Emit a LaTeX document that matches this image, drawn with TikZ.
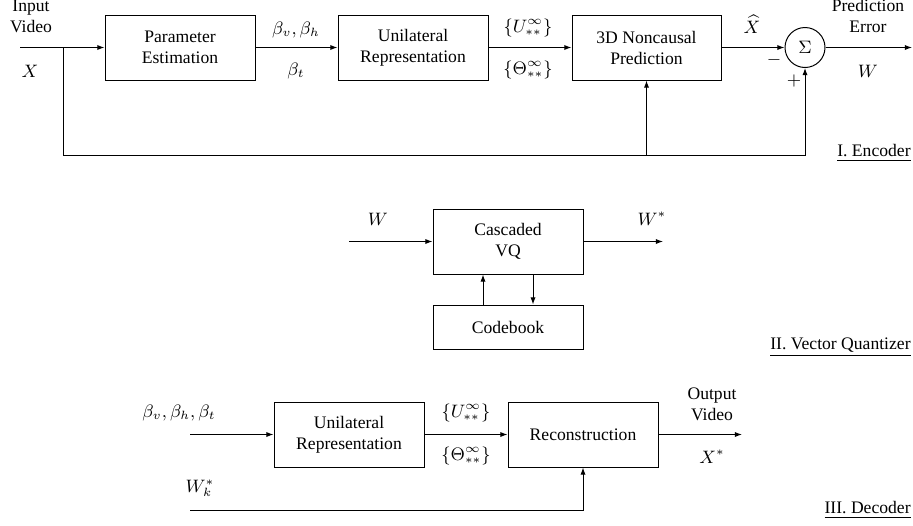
\documentclass[tikz,border=0pt]{standalone}
\usepackage{fontspec}
\setmainfont{Liberation Serif}
\usetikzlibrary{arrows.meta}
\begin{document}
\begin{tikzpicture}[x=0.5pt,y=-0.5pt,
  txt/.style={font=\fontsize{8.8}{10.5}\selectfont},
  blk/.style={draw, line width=0.5pt, inner sep=0pt, align=center, txt},
  lbl/.style={inner sep=0pt, align=center, txt},
  conn/.style={line width=0.5pt},
  arr/.style={conn, -{Latex[length=3.6pt,width=2.6pt]}}]
\useasboundingbox (0,0) rectangle (913,525);

% ---------- I. Encoder ----------
\node[blk, minimum width=75pt, minimum height=32.5pt] (pe) at (180,47.5) {Parameter\\Estimation};
\node[blk, minimum width=75pt, minimum height=32.5pt] (ur) at (413,47.5) {Unilateral\\Representation};
\node[blk, minimum width=74.5pt, minimum height=32.5pt] (np) at (646.5,47.5) {3D Noncausal\\Prediction};
\node[blk, circle, minimum size=20pt] (sig) at (805,47.5) {$\Sigma$};

\coordinate (xin) at (20,47.5);
\coordinate (br) at (63,47.5);
\coordinate (bl) at (63,155);
\coordinate (eout) at (912,47.5);

\draw[conn] (xin) -- (br);
\draw[arr] (br) -- (pe.west);
\draw[arr] (pe.east) -- (ur.west);
\draw[arr] (ur.east) -- (np.west);
\draw[arr] (np.east) -- (sig.west);
\draw[arr] (sig.east) -- (eout);
\draw[arr] (br) -- (bl) -| (sig.south);
\draw[arr] (np.south |- bl) -- (np.south);

\node[lbl] (inlbl) at (31,16) {Input\\Video};
\node[lbl] (xlbl) at (30,71) {$X$};
\node[lbl] (bvh) at (296,30) {$\beta_v,\beta_h$};
\node[lbl] (bt) at (296,71) {$\beta_t$};
\node[lbl] (ulbl) at (528,28) {$\{U_{**}^{\infty}\}$};
\node[lbl] (tlbl) at (528,70) {$\{\Theta_{**}^{\infty}\}$};
\node[lbl] (xhat) at (752,24) {$\widehat{X}$};
\node[lbl] (minus) at (774,60) {$-$};
\node[lbl] (plus) at (794,81) {$+$};
\node[lbl] (perr) at (868,16) {Prediction\\Error};
\node[lbl] (wlbl) at (868,71) {$W$};
\node[lbl, anchor=east] (enc) at (911,153) {\underline{I. Encoder}};

% ---------- II. Vector Quantizer ----------
\node[blk, minimum width=75pt, minimum height=32.5pt] (vq) at (508,241.5) {Cascaded\\VQ};
\node[blk, minimum width=75pt, minimum height=22pt] (cb) at (508,327) {Codebook};
\coordinate (win) at (349,241.5);
\coordinate (wout) at (663,241.5);
\draw[arr] (win) -- (vq.west);
\draw[arr] (vq.east) -- (wout);
\draw[arr] ([xshift=-12.5pt]cb.north) -- ([xshift=-12.5pt]vq.south);
\draw[arr] ([xshift=12.5pt]vq.south) -- ([xshift=12.5pt]cb.north);
\node[lbl] (w2) at (378,219) {$W$};
\node[lbl] (ws) at (652,219) {$W^{*}$};
\node[lbl, anchor=east] (vqt) at (911,347) {\underline{II. Vector Quantizer}};

% ---------- III. Decoder ----------
\node[blk, minimum width=75pt, minimum height=32.5pt] (ur2) at (349,434.5) {Unilateral\\Representation};
\node[blk, minimum width=75pt, minimum height=32.5pt] (rc) at (583,434.5) {Reconstruction};
\coordinate (bin) at (190,434.5);
\coordinate (xout) at (742,434.5);
\coordinate (wk) at (190,510);
\draw[arr] (bin) -- (ur2.west);
\draw[arr] (ur2.east) -- (rc.west);
\draw[arr] (rc.east) -- (xout);
\draw[arr] (wk) -| (rc.south);
\node[lbl] (ball) at (179,413) {$\beta_v,\beta_h,\beta_t$};
\node[lbl] (u2) at (466,413) {$\{U_{**}^{\infty}\}$};
\node[lbl] (t2) at (466,456) {$\{\Theta_{**}^{\infty}\}$};
\node[lbl] (ovid) at (712,404) {Output\\Video};
\node[lbl] (xs) at (712,457) {$X^{*}$};
\node[lbl] (wks) at (200,488) {$W_k^{*}$};
\node[lbl, anchor=east] (dec) at (911,510) {\underline{III. Decoder}};
\end{tikzpicture}
\end{document}
